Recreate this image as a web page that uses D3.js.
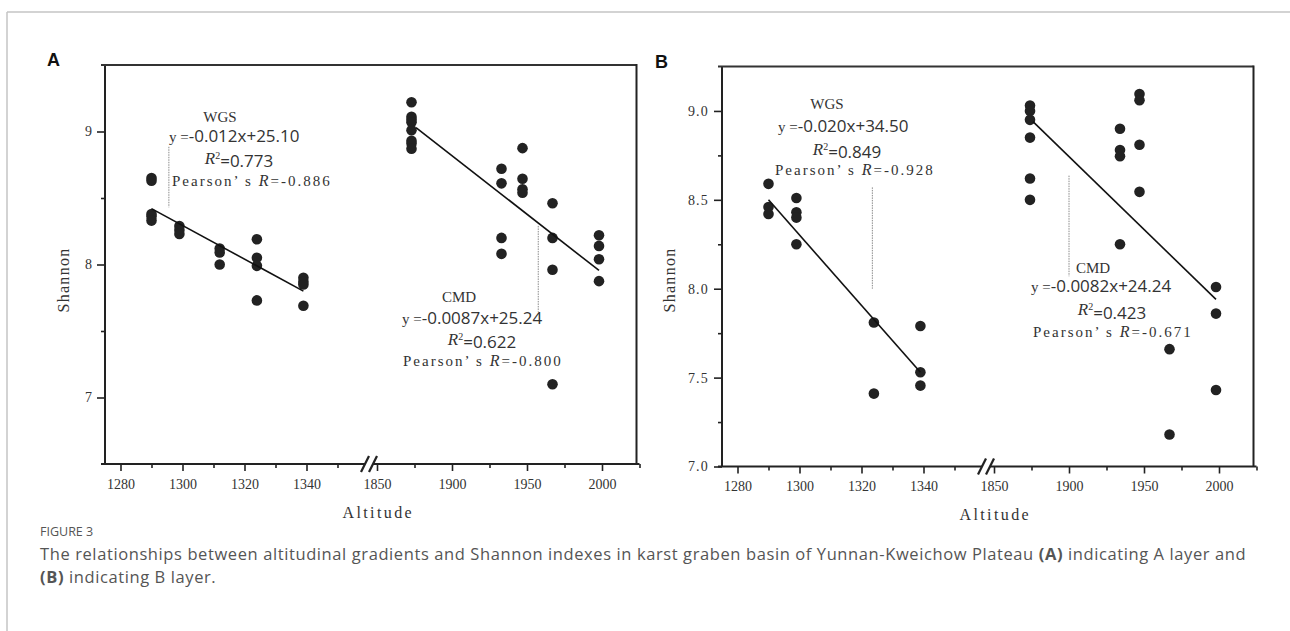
<!DOCTYPE html>
<html>
<head>
<meta charset="utf-8">
<script src="https://cdn.jsdelivr.net/npm/d3@7/dist/d3.min.js"></script>
<style>
  body { margin: 0; background: #fff; }
</style>
</head>
<body>
<svg id="fig" width="1290" height="631"></svg>
<script>
// ---- data ----
// panel A (layer A)
const wgsAltA  = [1290, 1290, 1290, 1290, 1290, 1299, 1299, 1299, 1312, 1312, 1312, 1324, 1324, 1324, 1324, 1339, 1339, 1339, 1339];
const wgsShanA = [8.65, 8.63, 8.38, 8.36, 8.33, 8.29, 8.26, 8.23, 8.12, 8.09, 8.00, 8.19, 8.05, 7.99, 7.73, 7.90, 7.87, 7.85, 7.69];
const cmdAltA  = [1873, 1873, 1873, 1873, 1873, 1873, 1873, 1873, 1933, 1933, 1933, 1933, 1947, 1947, 1947, 1947, 1967, 1967, 1967, 1967, 1998, 1998, 1998, 1998];
const cmdShanA = [9.22, 9.11, 9.09, 9.07, 9.01, 8.93, 8.91, 8.87, 8.72, 8.61, 8.20, 8.08, 8.875, 8.645, 8.565, 8.54, 8.46, 8.20, 7.96, 7.10, 8.22, 8.14, 8.04, 7.875];
const wgsFitA  = [[1290, 8.42], [1339, 7.80]];
const cmdFitA  = [[1876, 9.03], [1998, 7.955]];

// panel B (layer B)
const wgsAltB  = [1290, 1290, 1290, 1299, 1299, 1299, 1299, 1324, 1324, 1339, 1339, 1339];
const wgsShanB = [8.59, 8.46, 8.42, 8.51, 8.43, 8.40, 8.25, 7.81, 7.41, 7.79, 7.53, 7.455];
const cmdAltB  = [1874, 1874, 1874, 1874, 1874, 1874, 1934, 1934, 1934, 1934, 1947, 1947, 1947, 1947, 1967, 1967, 1998, 1998, 1998];
const cmdShanB = [9.03, 9.00, 8.95, 8.85, 8.62, 8.50, 8.90, 8.78, 8.745, 8.25, 9.095, 9.06, 8.81, 8.545, 7.66, 7.18, 8.01, 7.86, 7.43];
const wgsFitB  = [[1290, 8.50], [1339, 7.53]];
const cmdFitB  = [[1876, 8.94], [1998, 7.94]];

// fit statistics (text)
const eqText      = { wgsA: "-0.012x+25.10", cmdA: "-0.0087x+25.24", wgsB: "-0.020x+34.50", cmdB: "-0.0082x+24.24" };
const r2Text      = { wgsA: "0.773", cmdA: "0.622", wgsB: "0.849", cmdB: "0.423" };
const pearsonText = { wgsA: "-0.886", cmdA: "-0.800", wgsB: "-0.928", cmdB: "-0.671" };
// leader lines [altitude, shannon top, shannon bottom]
const leaderA = { wgs: [1295.6, 8.885, 8.43], cmd: [1957.5, 8.29, 7.645] };
const leaderB = { wgs: [1323.5, 8.57, 8.00], cmd: [1900, 8.636, 8.07] };

// tick values
const xMajorLow = [1280, 1300, 1320, 1340], xMinorLow = [1290, 1310, 1330, 1350];
const xMajorHigh = [1850, 1900, 1950, 2000], xMinorHigh = [1875, 1925, 1975, 2025];
const yMajorA = [7, 8, 9], yMinorA = [7.5, 8.5];
const yMajorB = [7.0, 7.5, 8.0, 8.5, 9.0], yMinorB = [7.25, 7.75, 8.25, 8.75];

const SERIF = "'Liberation Serif', 'DejaVu Serif', serif";
const SANS = "'Open Sans', 'Noto Sans', sans-serif";
const INK = "#222";

const svg = d3.select("#fig");

// page frame
svg.append("line").attr("x1", 7).attr("y1", 12).attr("x2", 7).attr("y2", 631)
  .attr("stroke", "#c4c4c4").attr("stroke-width", 1.5);
svg.append("line").attr("x1", 7).attr("y1", 12).attr("x2", 1290).attr("y2", 12)
  .attr("stroke", "#c4c4c4").attr("stroke-width", 1.5);

const panels = [
  {
    id: "A", left: 105, top: 65, height: 399, yDomain: [6.5, 9.5],
    yMajor: yMajorA, yMinor: yMinorA, yFmt: d3.format("d"),
    wgs: { alt: wgsAltA, shan: wgsShanA, fit: wgsFitA, key: "wgsA", leader: leaderA.wgs,
           note: { cx: 115, cy: 52, eqX: 64, eqY: 71, r2X: 134, r2Y: 93, rX: 67, rY: 116 } },
    cmd: { alt: cmdAltA, shan: cmdShanA, fit: cmdFitA, key: "cmdA", leader: leaderA.cmd,
           note: { cx: 354, cy: 232, eqX: 297, eqY: 253, r2X: 377, r2Y: 274, rX: 298, rY: 296 } },
    letterDx: -58, ylabDx: -42, xlabDx: 6
  },
  {
    id: "B", left: 722, top: 66.5, height: 400, yDomain: [7, 9.25],
    yMajor: yMajorB, yMinor: yMinorB, yFmt: d3.format(".1f"),
    wgs: { alt: wgsAltB, shan: wgsShanB, fit: wgsFitB, key: "wgsB", leader: leaderB.wgs,
           note: { cx: 105, cy: 37.5, eqX: 56, eqY: 59.5, r2X: 125, r2Y: 82.5, rX: 53, rY: 103.5 } },
    cmd: { alt: cmdAltB, shan: cmdShanB, fit: cmdFitB, key: "cmdB", leader: leaderB.cmd,
           note: { cx: 371, cy: 201.5, eqX: 309, eqY: 220, r2X: 390, r2Y: 243, rX: 311, rY: 265 } },
    letterDx: -67, ylabDx: -53, xlabDx: 6
  }
];

panels.forEach(drawPanel);

function drawPanel(p) {
  const lowW = 263.5, gapW = 1, highW = 270;
  const width = lowW + gapW + highW;
  const h = p.height;

  const xL = d3.scaleLinear().domain([1275, 1360]).range([0, lowW]);
  const xR = d3.scaleLinear().domain([1845, 2025]).range([lowW + gapW, width]);
  const bx = v => (v < 1600 ? xL(v) : xR(v));
  const y = d3.scaleLinear().domain(p.yDomain).range([h, 0]);

  const g = svg.append("g").attr("transform", `translate(${p.left},${p.top})`);

  // panel letter
  svg.append("text")
    .attr("x", p.left + p.letterDx).attr("y", p.top - 5)
    .attr("dy", "0.35em")
    .style("font-family", "'Liberation Sans', Arial, sans-serif")
    .style("font-weight", "bold").style("font-size", "18px").style("fill", "#111")
    .text(p.id);

  // axes ticks
  const styleAxis = sel => {
    sel.select(".domain").remove();
    sel.selectAll("line").attr("stroke", INK).attr("stroke-width", 1.6);
    sel.selectAll("text").style("font-family", SERIF).style("font-size", "14px").style("fill", "#333");
  };
  [[xL, xMajorLow, xMinorLow], [xR, xMajorHigh, xMinorHigh]].forEach(([sc, maj, min]) => {
    g.append("g").attr("transform", `translate(0,${h})`)
      .call(d3.axisBottom(sc).tickValues(maj).tickSize(7).tickPadding(8).tickFormat(d3.format("d")))
      .call(styleAxis);
    g.append("g").attr("transform", `translate(0,${h})`)
      .call(d3.axisBottom(sc).tickValues(min).tickSize(4).tickFormat(""))
      .call(styleAxis);
  });
  g.append("g")
    .call(d3.axisLeft(y).tickValues(p.yMajor).tickSize(8).tickPadding(5).tickFormat(p.yFmt))
    .call(styleAxis)
    .selectAll("text").style("letter-spacing", p.id === "B" ? "1.2px" : "0px");
  g.append("g")
    .call(d3.axisLeft(y).tickValues(p.yMinor).tickSize(4).tickFormat(""))
    .call(styleAxis);

  // axis box with broken bottom axis
  const gap = lowW + gapW / 2;
  g.append("line").attr("x1", 0).attr("y1", 0).attr("x2", 0).attr("y2", h)
    .attr("stroke", INK).attr("stroke-width", 2);
  g.append("line").attr("x1", -4).attr("y1", 0).attr("x2", width - 3).attr("y2", 0)
    .attr("stroke", "#333").attr("stroke-width", 1.8);
  g.append("line").attr("x1", width - 3).attr("y1", -1).attr("x2", width - 3).attr("y2", h)
    .attr("stroke", INK).attr("stroke-width", 2);
  g.append("line").attr("x1", -4).attr("y1", h).attr("x2", gap - 4).attr("y2", h)
    .attr("stroke", INK).attr("stroke-width", 2);
  g.append("line").attr("x1", gap + 4).attr("y1", h).attr("x2", width).attr("y2", h)
    .attr("stroke", INK).attr("stroke-width", 2);
  [-4, 4].forEach(off => {
    g.append("line")
      .attr("x1", gap + off - 4).attr("y1", h + 8)
      .attr("x2", gap + off + 4).attr("y2", h - 8)
      .attr("stroke", INK).attr("stroke-width", 2.2);
  });

  // axis titles
  g.append("text")
    .attr("transform", `translate(${p.ylabDx},${280 - p.top}) rotate(-90)`)
    .attr("text-anchor", "middle").attr("dy", "0.35em")
    .style("font-family", SERIF).style("font-size", "16px").style("letter-spacing", "1.3px")
    .style("fill", "#333")
    .text("Shannon");
  g.append("text")
    .attr("x", width / 2 + p.xlabDx).attr("y", h + 48)
    .attr("text-anchor", "middle").attr("dy", "0.35em")
    .style("font-family", SERIF).style("font-size", "16px").style("letter-spacing", "2.4px")
    .style("fill", "#333")
    .text("Altitude");

  [["WGS", p.wgs], ["CMD", p.cmd]].forEach(([name, s]) => {
    // leader line
    g.append("line")
      .attr("x1", bx(s.leader[0])).attr("x2", bx(s.leader[0]))
      .attr("y1", y(s.leader[1])).attr("y2", y(s.leader[2]))
      .attr("stroke", "#8a8a8a").attr("stroke-width", 1).attr("stroke-dasharray", "1.5,1");

    // points
    g.append("g").selectAll("circle")
      .data(s.alt.map((a, i) => [a, s.shan[i]]))
      .join("circle")
      .attr("cx", d => bx(d[0])).attr("cy", d => y(d[1]))
      .attr("r", 5.3).attr("fill", "#222");

    // fitted line
    g.append("path")
      .attr("d", d3.line().x(d => bx(d[0])).y(d => y(d[1]))(s.fit))
      .attr("fill", "none").attr("stroke", "#111").attr("stroke-width", 1.6);

    // annotation block
    const n = s.note;
    g.append("text").attr("x", n.cx).attr("y", n.cy).attr("dy", "0.35em")
      .attr("text-anchor", "middle")
      .style("font-family", SERIF).style("font-size", "15px").style("fill", "#333")
      .text(name);

    const eq = g.append("text").attr("x", n.eqX).attr("y", n.eqY).attr("dy", "0.35em").style("fill", "#333");
    eq.append("tspan").style("font-family", SERIF).style("font-size", "15px").text("y =");
    eq.append("tspan").style("font-family", SANS).style("font-size", "17px").text(eqText[s.key]);

    const r2 = g.append("text").attr("x", n.r2X).attr("y", n.r2Y).attr("dy", "0.35em")
      .attr("text-anchor", "middle").style("fill", "#333");
    r2.append("tspan").style("font-family", SERIF).style("font-style", "italic").style("font-size", "17px").text("R");
    r2.append("tspan").attr("dy", "-0.5em").style("font-family", SERIF).style("font-size", "10px").text("2");
    r2.append("tspan").attr("dy", "0.5em").style("font-family", SANS).style("font-size", "17px").text("=" + r2Text[s.key]);

    const pr = g.append("text").attr("x", n.rX).attr("y", n.rY).attr("dy", "0.35em")
      .style("fill", "#333").style("font-family", SERIF).style("font-size", "15px")
      .style("letter-spacing", "2px");
    pr.append("tspan").text("Pearson\u2019 s ");
    pr.append("tspan").style("font-style", "italic").style("font-size", "16px").text("R");
    pr.append("tspan").text("=" + pearsonText[s.key]);
  });
}

// caption
const CAP = "'Open Sans', 'Noto Sans', sans-serif";
svg.append("text").attr("x", 40).attr("y", 532).attr("dy", "0.35em")
  .style("font-family", CAP).style("font-size", "12.5px").style("fill", "#555")
  .text("FIGURE 3");
const cap1 = svg.append("text").attr("x", 40).attr("y", 554).attr("dy", "0.35em")
  .style("font-family", CAP).style("font-size", "16.5px").style("letter-spacing", "0.6px")
  .style("fill", "#555");
cap1.append("tspan").text("The relationships between altitudinal gradients and Shannon indexes in karst graben basin of Yunnan-Kweichow Plateau ");
cap1.append("tspan").style("font-weight", "bold").text("(A)");
cap1.append("tspan").text(" indicating A layer and");
const cap2 = svg.append("text").attr("x", 40).attr("y", 577).attr("dy", "0.35em")
  .style("font-family", CAP).style("font-size", "16.5px").style("letter-spacing", "0.6px")
  .style("fill", "#555");
cap2.append("tspan").style("font-weight", "bold").text("(B)");
cap2.append("tspan").text(" indicating B layer.");
</script>
</body>
</html>
